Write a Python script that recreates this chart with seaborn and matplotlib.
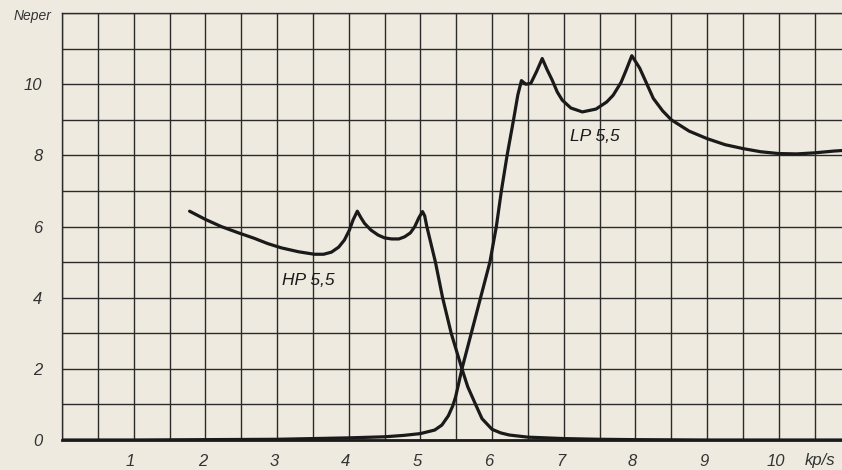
import numpy as np
import pandas as pd
import matplotlib
matplotlib.use("Agg")
import matplotlib.pyplot as plt
import matplotlib.transforms as mtransforms
import seaborn as sns

# HP 5,5 curve (kp/s, Neper)
hp_x = [1.78, 2.0, 2.22, 2.45, 2.68, 2.87, 3.06, 3.3, 3.52, 3.65, 3.76, 3.86, 3.94, 4.01, 4.06,
        4.12, 4.17, 4.22, 4.31, 4.41, 4.5, 4.6, 4.7, 4.78, 4.86, 4.92, 4.98, 5.03, 5.06, 5.09,
        5.15, 5.21, 5.31, 5.43, 5.58, 5.66, 5.77, 5.86, 6.0, 6.12, 6.24, 6.5, 7.0, 7.5, 8.0,
        9.0, 10.0, 11.0]
hp_y = [6.43, 6.2, 6.0, 5.83, 5.67, 5.52, 5.4, 5.29, 5.22, 5.22, 5.28, 5.42, 5.62, 5.9, 6.18,
        6.43, 6.25, 6.09, 5.9, 5.76, 5.68, 5.65, 5.65, 5.71, 5.82, 5.99, 6.25, 6.42, 6.3, 6.0,
        5.5, 5.0, 4.0, 3.0, 2.0, 1.5, 1.0, 0.6, 0.3, 0.2, 0.14, 0.08, 0.04, 0.02, 0.01,
        0.0, 0.0, 0.0]

# LP 5,5 curve
lp_x = [0.0, 1.0, 2.0, 3.0, 3.5, 4.0, 4.5, 4.77, 5.0, 5.2, 5.3, 5.39, 5.45, 5.49, 5.53, 5.58,
        5.71, 5.84, 5.97, 6.06, 6.13, 6.21, 6.3, 6.36, 6.41, 6.47, 6.54, 6.62, 6.7, 6.77, 6.84,
        6.91, 6.98, 7.1, 7.26, 7.45, 7.6, 7.69, 7.8, 7.87, 7.95, 8.06, 8.15, 8.25, 8.38, 8.5,
        8.75, 9.0, 9.25, 9.5, 9.75, 10.0, 10.25, 10.5, 10.77, 11.0]
lp_y = [0.0, 0.0, 0.01, 0.02, 0.04, 0.06, 0.09, 0.13, 0.18, 0.28, 0.42, 0.68, 0.95, 1.2, 1.55,
        2.0, 3.0, 4.0, 5.0, 6.0, 7.0, 8.0, 9.0, 9.7, 10.1, 10.0, 10.02, 10.35, 10.72, 10.4,
        10.11, 9.78, 9.55, 9.33, 9.22, 9.3, 9.5, 9.69, 10.05, 10.39, 10.8, 10.45, 10.05, 9.6,
        9.25, 9.0, 8.68, 8.47, 8.3, 8.19, 8.1, 8.05, 8.04, 8.07, 8.12, 8.15]

x_ticks = [1, 2, 3, 4, 5, 6, 7, 8, 9, 10]
y_ticks = [0, 2, 4, 6, 8, 10]

hp = pd.DataFrame({"f": hp_x, "a": hp_y})
lp = pd.DataFrame({"f": lp_x, "a": lp_y})

paper = "#eeeadf"
ink = "#1a1a1a"

sns.set_style("white")
plt.rcParams["font.family"] = ["Liberation Sans", "DejaVu Sans"]

fig = plt.figure(figsize=(8.42, 4.70), dpi=100, facecolor=paper)
ax = fig.add_axes([62 / 842, 30 / 470, 1 - 62 / 842 + 0.01, 427 / 470])
ax.set_facecolor(paper)

ax.set_xlim(0, 10.95)
ax.set_ylim(0, 12)

sns.lineplot(data=hp, x="f", y="a", sort=False, ax=ax, color=ink, linewidth=2.3, zorder=3)
sns.lineplot(data=lp, x="f", y="a", sort=False, ax=ax, color=ink, linewidth=2.3, zorder=3)

# grid: every 0.5 kp/s, every 1 Neper
ax.set_xticks(x_ticks)
ax.set_xticks(np.arange(0, 11.01, 0.5), minor=True)
ax.set_yticks(y_ticks)
ax.set_yticks(np.arange(0, 12.01, 1), minor=True)
ax.grid(which="both", color="#2b2b2b", linewidth=1.0)
ax.set_axisbelow(True)

ax.set_xticklabels([str(v) for v in x_ticks], fontstyle="italic", fontsize=12, color="#333333")
ax.set_yticklabels([str(v) for v in y_ticks], fontstyle="italic", fontsize=12, color="#333333")
ax.tick_params(which="both", length=0)
ax.tick_params(axis="x", pad=10)
ax.tick_params(axis="y", pad=14)
shift = mtransforms.ScaledTranslation(-3 / 100, 0, fig.dpi_scale_trans)
for lab in ax.get_xticklabels():
    lab.set_transform(lab.get_transform() + shift)

ax.set_xlabel("")
ax.set_ylabel("")

for side in ["left", "top"]:
    ax.spines[side].set_color("#2b2b2b")
    ax.spines[side].set_linewidth(1.0)
ax.spines["bottom"].set_color(ink)
ax.spines["bottom"].set_linewidth(2.0)
ax.spines["right"].set_visible(False)

ax.text(3.43, 4.49, "HP 5,5", fontstyle="italic", fontsize=12.5, color=ink,
        ha="center", va="center", zorder=4)
ax.text(7.43, 8.52, "LP 5,5", fontstyle="italic", fontsize=12.5, color=ink,
        ha="center", va="center", zorder=4)

fig.text(33 / 842, 1 - 16 / 470, "Neper", fontstyle="italic", fontsize=10, color="#333333",
         ha="center", va="center")
fig.text(820 / 842, 1 - 460 / 470, "kp/s", fontstyle="italic", fontsize=12, color="#333333",
         ha="center", va="center")

fig.savefig("out.png", dpi=100, facecolor=paper)
